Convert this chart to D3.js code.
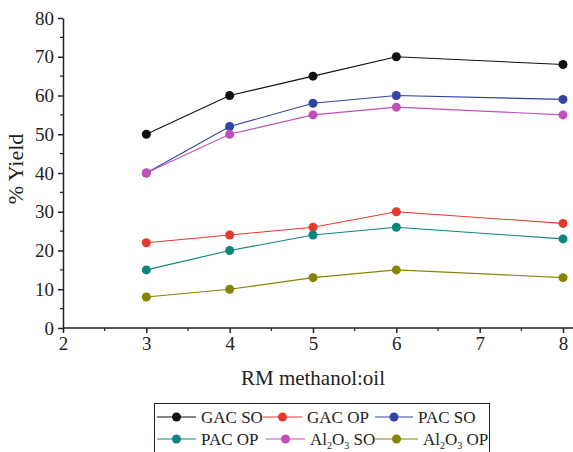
<!DOCTYPE html>
<html>
<head>
<meta charset="utf-8">
<script src="https://cdn.jsdelivr.net/npm/d3@7"></script>
<style>
  body { margin: 0; background: #fff; }
  text { font-family: "Liberation Serif", "Times New Roman", serif; fill: #222; }
</style>
</head>
<body>
<div id="chart"></div>
<script>
var svgWidth = 573;
var svgHeight = 452;

// molar ratio methanol:oil
var ratios = [3, 4, 5, 6, 8];

var gacSO = [50, 60, 65, 70, 68];
var gacOP = [22, 24, 26, 30, 27];
var pacSO = [40, 52, 58, 60, 59];
var pacOP = [15, 20, 24, 26, 23];
var alSO = [40, 50, 55, 57, 55];
var alOP = [8, 10, 13, 15, 13];

var xTicks = [2, 3, 4, 5, 6, 7, 8];
var yTicks = [0, 10, 20, 30, 40, 50, 60, 70, 80];

var series = [
  { name: "GAC SO", values: gacSO, color: "#111111" },
  { name: "GAC OP", values: gacOP, color: "#e53a2b" },
  { name: "PAC SO", values: pacSO, color: "#3044a6" },
  { name: "PAC OP", values: pacOP, color: "#0c8480" },
  { name: "Al2O3 SO", values: alSO, color: "#c350b9" },
  { name: "Al2O3 OP", values: alOP, color: "#868400" }
];

var margin = { top: 18, left: 63 };
var plotW = 500;
var plotH = 310;

var svg = d3.select("#chart")
  .append("svg")
  .attr("width", svgWidth)
  .attr("height", svgHeight);

var chartGroup = svg.append("g")
  .attr("transform", `translate(${margin.left}, ${margin.top})`);

var xScale = d3.scaleLinear().domain([2, 8]).range([0, plotW]);
var yScale = d3.scaleLinear().domain([0, 80]).range([plotH, 0]);

// minor ticks first, so major ticks sit on top
var xMinor = d3.range(2.5, 8, 1);
var yMinor = d3.range(5, 80, 10);

chartGroup.selectAll(".xminor")
  .data(xMinor)
  .enter()
  .append("line")
  .attr("x1", d => xScale(d))
  .attr("x2", d => xScale(d))
  .attr("y1", plotH)
  .attr("y2", plotH + 3)
  .attr("stroke", "#222")
  .attr("stroke-width", 1.2);

chartGroup.selectAll(".yminor")
  .data(yMinor)
  .enter()
  .append("line")
  .attr("x1", -3)
  .attr("x2", 0)
  .attr("y1", d => yScale(d))
  .attr("y2", d => yScale(d))
  .attr("stroke", "#222")
  .attr("stroke-width", 1.2);

var xAxis = d3.axisBottom(xScale).tickValues(xTicks).tickFormat(d3.format("d"))
  .tickSize(5).tickPadding(4).tickSizeOuter(0);
var yAxis = d3.axisLeft(yScale).tickValues(yTicks).tickFormat(d3.format("d"))
  .tickSize(5).tickPadding(4).tickSizeOuter(0);

var gx = chartGroup.append("g")
  .attr("transform", `translate(0, ${plotH})`)
  .call(xAxis);

var gy = chartGroup.append("g")
  .call(yAxis);

[gx, gy].forEach(function(g) {
  g.select(".domain").attr("stroke", "#222").attr("stroke-width", 1.5);
  g.selectAll(".tick line").attr("stroke", "#222").attr("stroke-width", 1.5);
  g.selectAll(".tick text")
    .style("font-family", "Liberation Serif, serif")
    .style("font-size", "19px")
    .attr("fill", "#222");
});

// x axis line runs on past the last tick
gx.select(".domain").attr("d", `M0,0H${svgWidth - margin.left}`);

// lines and markers
var line = d3.line()
  .x((d, i) => xScale(ratios[i]))
  .y(d => yScale(d));

series.forEach(function(s) {
  chartGroup.append("path")
    .datum(s.values)
    .attr("d", line)
    .attr("fill", "none")
    .attr("stroke", s.color)
    .attr("stroke-width", 1.1);

  chartGroup.selectAll(null)
    .data(s.values)
    .enter()
    .append("circle")
    .attr("cx", (d, i) => xScale(ratios[i]))
    .attr("cy", d => yScale(d))
    .attr("r", 4.5)
    .attr("fill", s.color);
});

// axis labels
svg.append("text")
  .attr("transform", `translate(23, 169) rotate(-90)`)
  .attr("text-anchor", "middle")
  .style("font-size", "22px")
  .text("% Yield");

svg.append("text")
  .attr("x", margin.left + plotW / 2)
  .attr("y", 385)
  .attr("text-anchor", "middle")
  .style("font-size", "21px")
  .text("RM methanol:oil");

// legend box, two rows of three
var legend = svg.append("g");

legend.append("rect")
  .attr("x", 154.5)
  .attr("y", 403.5)
  .attr("width", 335)
  .attr("height", 60)
  .attr("fill", "none")
  .attr("stroke", "#222")
  .attr("stroke-width", 1);

var slots = [
  { x: 157, y: 417, tx: 201 }, { x: 263, y: 417, tx: 307 }, { x: 375, y: 417, tx: 418 },
  { x: 157, y: 439, tx: 201 }, { x: 266, y: 439, tx: 310 }, { x: 375, y: 439, tx: 423 }
];

series.forEach(function(s, i) {
  var p = slots[i];
  var item = legend.append("g").attr("transform", `translate(${p.x}, ${p.y})`);
  item.append("line")
    .attr("x1", 0).attr("x2", p.tx - p.x - 5)
    .attr("y1", 0).attr("y2", 0)
    .attr("stroke", s.color)
    .attr("stroke-width", 1.1);
  item.append("circle")
    .attr("cx", (p.tx - p.x - 5) / 2).attr("cy", 0)
    .attr("r", 4.5)
    .attr("fill", s.color);

  var t = item.append("text")
    .attr("x", p.tx - p.x)
    .attr("y", 6)
    .style("font-size", "17px");
  if (s.name.indexOf("Al2O3") === 0) {
    t.append("tspan").text("Al");
    t.append("tspan").attr("dy", 4).style("font-size", "10px").text("2");
    t.append("tspan").attr("dy", -4).text("O");
    t.append("tspan").attr("dy", 4).style("font-size", "10px").text("3");
    t.append("tspan").attr("dy", -4).text(s.name.slice(5));
  } else {
    t.text(s.name);
  }
});
</script>
</body>
</html>
